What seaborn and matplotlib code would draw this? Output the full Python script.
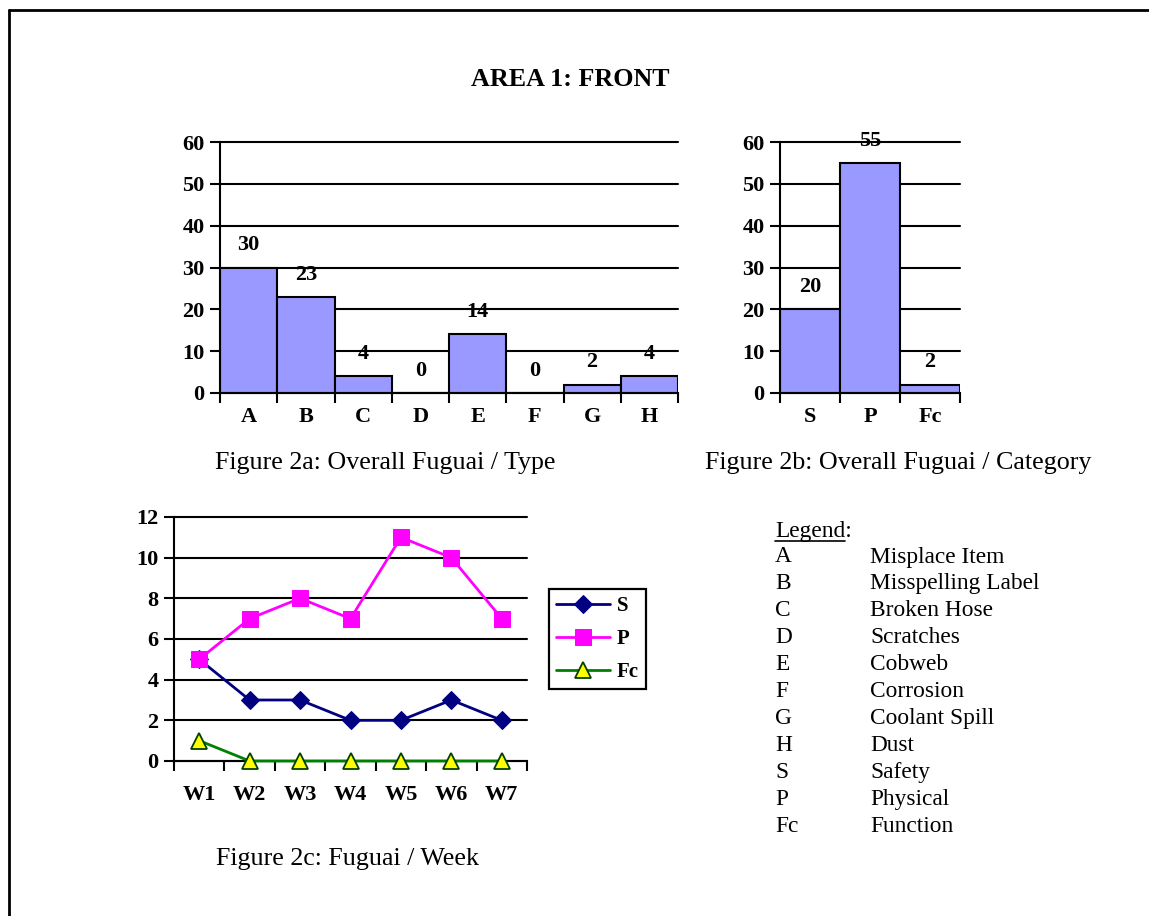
import numpy as np
import pandas as pd
import seaborn as sns
import matplotlib.pyplot as plt
from matplotlib.lines import Line2D

# data
types = ["A", "B", "C", "D", "E", "F", "G", "H"]
type_counts = [30, 23, 4, 0, 14, 0, 2, 4]

categories = ["S", "P", "Fc"]
category_counts = [20, 55, 2]

weeks = ["W1", "W2", "W3", "W4", "W5", "W6", "W7"]
safety = [5, 3, 3, 2, 2, 3, 2]
physical = [5, 7, 8, 7, 11, 10, 7]
function = [1, 0, 0, 0, 0, 0, 0]

legend_codes = ["A", "B", "C", "D", "E", "F", "G", "H", "S", "P", "Fc"]
legend_names = ["Misplace Item", "Misspelling Label", "Broken Hose", "Scratches",
                "Cobweb", "Corrosion", "Coolant Spill", "Dust", "Safety",
                "Physical", "Function"]

sns.set_theme(style="white")
plt.rcParams["font.family"] = ["Liberation Serif", "DejaVu Serif"]
plt.rcParams["text.color"] = "black"
plt.rcParams["xtick.color"] = "black"
plt.rcParams["ytick.color"] = "black"
plt.rcParams["axes.labelcolor"] = "black"

W, H = 1149, 916
fig = plt.figure(figsize=(W / 100, H / 100), dpi=100)


def px_axes(left, top, right, bottom):
    return fig.add_axes([left / W, 1 - bottom / H, (right - left) / W, (bottom - top) / H])


def style_axes(ax, labels, ymax, ystep, xpad):
    n = len(labels)
    ax.set_xlim(-0.5, n - 0.5)
    ax.set_ylim(0, ymax)
    ax.set_yticks(range(0, ymax + 1, ystep))
    ax.set_xticks(range(n))
    ax.set_xticklabels(labels)
    ax.set_xticks(np.arange(-0.5, n), minor=True)
    ax.set_xlabel("")
    ax.set_ylabel("")
    ax.yaxis.grid(True, color="black", linewidth=1.5)
    ax.set_axisbelow(True)
    for gl in ax.get_ygridlines():
        gl.set_clip_on(False)
    for s in ["top", "right"]:
        ax.spines[s].set_visible(False)
    for s in ["left", "bottom"]:
        ax.spines[s].set_color("black")
        ax.spines[s].set_linewidth(1.5)
    ax.tick_params(axis="x", which="major", length=0, pad=xpad, bottom=True)
    ax.tick_params(axis="x", which="minor", length=7, width=1.5, color="black",
                   direction="out", bottom=True)
    ax.tick_params(axis="y", length=7, width=1.5, color="black", direction="out",
                   left=True, pad=4)
    for lab in ax.get_xticklabels() + ax.get_yticklabels():
        lab.set_fontweight("bold")
        lab.set_fontsize(16)
        lab.set_color("black")


def bar_chart(ax, labels, values):
    sns.barplot(x=labels, y=values, ax=ax, color="#9999FF", saturation=1,
                width=1, edgecolor="black", linewidth=1.5)
    style_axes(ax, labels, 60, 10, 10)
    for i, v in enumerate(values):
        ax.annotate(str(v), (i, v), xytext=(0, 16), textcoords="offset points",
                    ha="center", va="center", fontsize=16, fontweight="bold")


# Figure 2a and 2b
ax_a = px_axes(220, 142, 678, 393)
bar_chart(ax_a, types, type_counts)
ax_b = px_axes(780, 142, 960, 393)
bar_chart(ax_b, categories, category_counts)

# Figure 2c
ax_c = px_axes(174, 517, 527, 761)
x = np.arange(len(weeks))
sns.lineplot(x=x, y=safety, ax=ax_c, color="#000080", marker="D", markersize=9,
             markeredgecolor="#000080", linewidth=2, label="S", clip_on=False, zorder=5)
sns.lineplot(x=x, y=physical, ax=ax_c, color="#FF00FF", marker="s", markersize=11,
             markeredgecolor="#FF00FF", linewidth=2, label="P", clip_on=False, zorder=5)
sns.lineplot(x=x, y=function, ax=ax_c, color="#008000", marker="^", markersize=11,
             markerfacecolor="#FFFF00", markeredgecolor="#004000", markeredgewidth=1.3,
             linewidth=2, label="Fc", clip_on=False, zorder=5)
style_axes(ax_c, weeks, 12, 2, 17)
handles, labs = ax_c.get_legend_handles_labels()
ax_c.get_legend().remove()
leg = fig.legend(handles, labs, loc="upper left", bbox_to_anchor=(549 / W, 1 - 589 / H),
                 frameon=True, fancybox=False, framealpha=1, edgecolor="black",
                 prop={"weight": "bold", "size": 15}, handlelength=2.6,
                 handletextpad=0.3, labelspacing=0.62, borderpad=0.35, borderaxespad=0)
leg.get_frame().set_linewidth(1.6)

# title and captions
fig.text(570 / W, 1 - 80 / H, "AREA 1: FRONT", ha="center", va="center",
         fontsize=18.7, fontweight="bold")
fig.text(385 / W, 1 - 463 / H, "Figure 2a: Overall Fuguai / Type", ha="center",
         va="center", fontsize=18.7)
fig.text(898 / W, 1 - 463 / H, "Figure 2b: Overall Fuguai / Category", ha="center",
         va="center", fontsize=18.7)
fig.text(348 / W, 1 - 859 / H, "Figure 2c: Fuguai / Week", ha="center",
         va="center", fontsize=18.7)

# legend block on the right
hdr = fig.text(775 / W, 1 - 531 / H, "Legend", ha="left", va="center", fontsize=16.8)
fig.text(775 / W, 1 - 531 / H, "Legend:", ha="left", va="center", fontsize=16.8)
for i, (code, name) in enumerate(zip(legend_codes, legend_names)):
    yy = 1 - (557 + 26.9 * i) / H
    fig.text(775 / W, yy, code, ha="left", va="center", fontsize=16.8)
    fig.text(870 / W, yy, name, ha="left", va="center", fontsize=16.8)

fig.canvas.draw()
bb = hdr.get_window_extent().transformed(fig.transFigure.inverted())
hdr.set_visible(False)
fig.add_artist(Line2D([bb.x0, bb.x1], [1 - 541 / H, 1 - 541 / H], color="black", linewidth=1.2))

# page border
fig.add_artist(Line2D([9 / W, 9 / W], [0, 1 - 10 / H], color="black", linewidth=2))
fig.add_artist(Line2D([9 / W, 1], [1 - 10 / H, 1 - 10 / H], color="black", linewidth=2))

fig.savefig("out.png", dpi=100)
